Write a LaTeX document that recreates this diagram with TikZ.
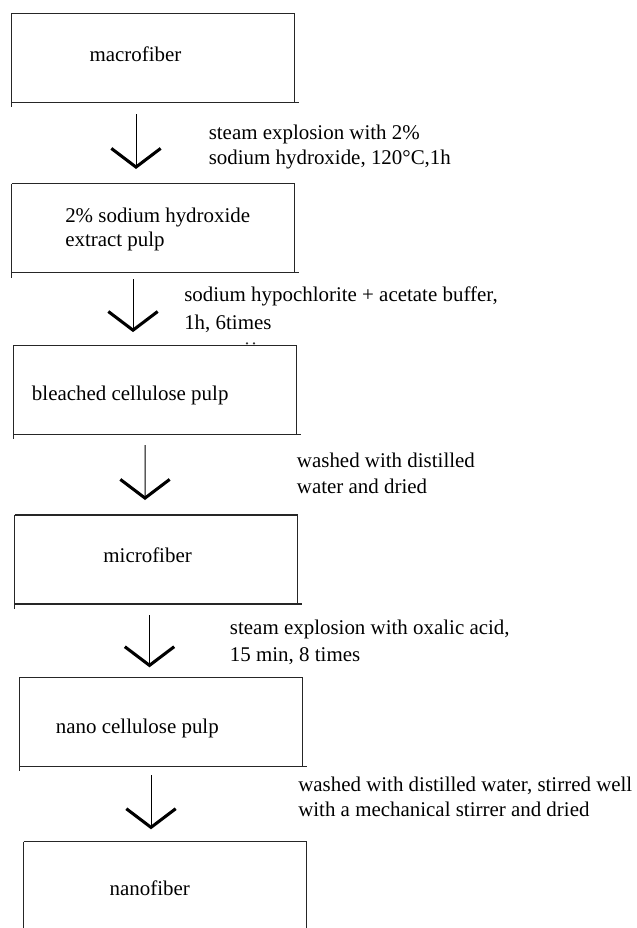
\documentclass[tikz,border=0pt]{standalone}
\usepackage{fontspec}
\setmainfont{Liberation Serif}
\usetikzlibrary{arrows.meta,calc}
\begin{document}
\begin{tikzpicture}[x=0.75pt,y=-0.75pt,
  stage/.style={minimum width=212.25pt,minimum height=66.75pt,inner sep=0pt,outer sep=0pt,draw=none},
  txt/.style={inner sep=0pt,font=\fontsize{15.7pt}{18pt}\selectfont,text=black},
  edge/.style={line width=0.8pt,draw=black!85},
  flow/.style={line width=0.75pt,draw=black,-{Straight Barb[length=14pt,width=37pt,line width=2.3pt]}},
  speck/.style={fill=black!80}
]
\path[use as bounding box, clip] (0,0) rectangle (636,928);
\fill[white] (0,0) rectangle (636,928);

% stages
\node[stage] (b1) at (153,57.6) {};
\node[stage] (b2) at (153.25,228) {};
\node[stage] (b3) at (155,389.6) {};
\node[stage] (b4) at (156.1,559.5) {};
\node[stage] (b5) at (161.1,721.7) {};
\node[stage] (b6) at (165.3,886) {};

\foreach \b in {b1,b2,b3,b4,b5,b6} {
  \draw[edge] (\b.north west) -- (\b.north east) -- (\b.south east);
  \draw[edge] (\b.north west) -- ($(\b.south west)+(0,5)$);
  \draw[edge] (\b.south west) -- ($(\b.south east)+(4,0)$);
}

% stage texts
\node[txt,anchor=base] (t1) at (135.5,61) {macrofiber};
\node[txt,anchor=base west] (t2a) at (65,222.5) {2\% sodium hydroxide};
\node[txt,anchor=base west] (t2b) at (65,246.5) {extract pulp};
\node[txt,anchor=base west] (t3) at (31.7,400) {bleached cellulose pulp};
\node[txt,anchor=base] (t4) at (147.6,562) {microfiber};
\node[txt,anchor=base west] (t5) at (55.7,733.5) {nano cellulose pulp};
\node[txt,anchor=base] (t6) at (149.7,895) {nanofiber};

% connectors
\draw[flow] ($(b1.south west)+(124.5,12)$) -- ($(b2.north west)+(124.25,-14.5)$);
\draw[flow] ($(b2.south west)+(121.25,6.5)$) -- ($(b3.north west)+(119.5,-13)$);
\draw[flow] ($(b3.south west)+(131.5,10.9)$) -- ($(b4.north west)+(130.4,-15)$);
\draw[flow] ($(b4.south west)+(134.9,11)$) -- ($(b5.north west)+(129.9,-9.9)$);
\draw[flow] ($(b5.south west)+(131.4,8.8)$) -- ($(b6.north west)+(127.2,-12.2)$);

% step labels
\node[txt,anchor=base west] (l1a) at (208.5,139) {steam explosion with 2\%};
\node[txt,anchor=base west] (l1b) at (208.5,164) {sodium hydroxide, 120°C,1h};
\node[txt,anchor=base west] (l2a) at (184,301.5) {sodium hypochlorite + acetate buffer,};
\node[txt,anchor=base west] (l2b) at (184,329) {1h, 6times};
\node[txt,anchor=base west] (l3a) at (296.7,467) {washed with distilled};
\node[txt,anchor=base west] (l3b) at (296.7,493) {water and dried};
\node[txt,anchor=base west] (l4a) at (229.7,634.5) {steam explosion with oxalic acid,};
\node[txt,anchor=base west] (l4b) at (229.7,661) {15 min, 8 times};
\node[txt,anchor=base west] (l5a) at (298,791) {washed with distilled water, stirred well};
\node[txt,anchor=base west] (l5b) at (298,816) {with a mechanical stirrer and dried};

% clipped remnants above the third box
\fill[speck] (247,343.3) circle (1.2);
\fill[speck] (254,343.3) circle (1.2);
\end{tikzpicture}
\end{document}
